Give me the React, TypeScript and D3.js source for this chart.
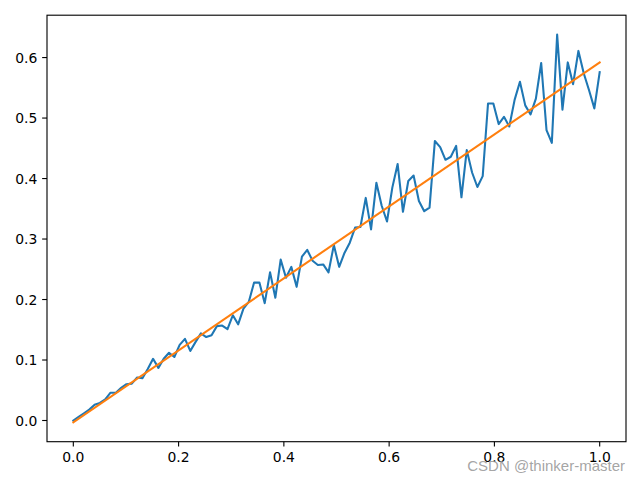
import React from 'react';
import * as d3 from 'd3';

// Noisy series (blue), 100 evenly spaced samples on [0, 1]
const noisyY: number[] = [
  0.000, 0.006, 0.012, 0.018, 0.026, 0.029, 0.035, 0.046, 0.046, 0.054,
  0.060, 0.061, 0.071, 0.070, 0.085, 0.102, 0.087, 0.102, 0.112, 0.105,
  0.125, 0.135, 0.115, 0.130, 0.144, 0.138, 0.141, 0.156, 0.157, 0.151,
  0.174, 0.159, 0.185, 0.196, 0.228, 0.228, 0.194, 0.245, 0.203, 0.266,
  0.236, 0.254, 0.221, 0.271, 0.282, 0.264, 0.257, 0.258, 0.245, 0.290,
  0.254, 0.277, 0.294, 0.319, 0.320, 0.368, 0.316, 0.393, 0.355, 0.329,
  0.385, 0.424, 0.345, 0.396, 0.405, 0.363, 0.346, 0.352, 0.462, 0.452,
  0.431, 0.436, 0.454, 0.369, 0.447, 0.410, 0.386, 0.404, 0.524, 0.524,
  0.490, 0.502, 0.486, 0.530, 0.560, 0.521, 0.506, 0.532, 0.591, 0.480,
  0.459, 0.638, 0.514, 0.592, 0.556, 0.611, 0.574, 0.546, 0.516, 0.576,
];
const noisyX: number[] = noisyY.map((_, i) => i / (noisyY.length - 1));

// Fitted line (orange)
const fitX: number[] = [0, 1];
const fitY: number[] = [-0.003, 0.592];

const xTicks: number[] = [0, 0.2, 0.4, 0.6, 0.8, 1.0];
const yTicks: number[] = [0, 0.1, 0.2, 0.3, 0.4, 0.5, 0.6];

const watermark = 'CSDN @thinker-master';

const W = 640;
const H = 480;
const left = 47;
const right = 626;
const top = 15.2;
const bottom = 441.7;

function padded(ext: [number, number]): [number, number] {
  const r = ext[1] - ext[0];
  return [ext[0] - 0.05 * r, ext[1] + 0.05 * r];
}

export default function App() {
  const xExt = d3.extent([...noisyX, ...fitX]) as [number, number];
  const yExt = d3.extent([...noisyY, ...fitY]) as [number, number];
  const x = d3.scaleLinear().domain(padded(xExt)).range([left, right]);
  const y = d3.scaleLinear().domain(padded(yExt)).range([bottom, top]);

  const line = d3
    .line<[number, number]>()
    .x((d) => x(d[0]))
    .y((d) => y(d[1]));

  const blue = line(noisyX.map((v, i) => [v, noisyY[i]] as [number, number])) || '';
  const orange = line(fitX.map((v, i) => [v, fitY[i]] as [number, number])) || '';

  const fs = 13.9;
  const tickLen = 4.86;
  const pad = 4.86;

  return (
    <svg
      width={W}
      height={H}
      style={{ position: 'absolute', left: 0, top: 0, background: '#fff' }}
      fontFamily="'DejaVu Sans', sans-serif"
    >
      <rect x={0} y={0} width={W} height={H} fill="#fff" />
      <defs>
        <clipPath id="plotClip">
          <rect x={left} y={top} width={right - left} height={bottom - top} />
        </clipPath>
      </defs>
      <g clipPath="url(#plotClip)">
        <path d={blue} fill="none" stroke="#1f77b4" strokeWidth={2.08} strokeLinejoin="round" strokeLinecap="square" />
        <path d={orange} fill="none" stroke="#ff7f0e" strokeWidth={2.08} strokeLinejoin="round" strokeLinecap="square" />
      </g>
      <rect
        x={left}
        y={top}
        width={right - left}
        height={bottom - top}
        fill="none"
        stroke="#000"
        strokeWidth={1.11}
      />
      {xTicks.map((t) => (
        <g key={'x' + t}>
          <line x1={x(t)} x2={x(t)} y1={bottom} y2={bottom + tickLen} stroke="#000" strokeWidth={1.11} />
          <text
            x={x(t)}
            y={bottom + tickLen + pad}
            dy="0.76em"
            textAnchor="middle"
            fontSize={fs}
            fill="#000"
          >
            {t.toFixed(1)}
          </text>
        </g>
      ))}
      {yTicks.map((t) => (
        <g key={'y' + t}>
          <line x1={left - tickLen} x2={left} y1={y(t)} y2={y(t)} stroke="#000" strokeWidth={1.11} />
          <text
            x={left - tickLen - pad}
            y={y(t)}
            dy="0.36em"
            textAnchor="end"
            fontSize={fs}
            fill="#000"
          >
            {t.toFixed(1)}
          </text>
        </g>
      ))}
      <text
        x={625}
        y={471}
        textAnchor="end"
        fontSize={15}
        fontFamily="'Liberation Sans', Arial, sans-serif"
        fill="#9a9a9a"
        fillOpacity={0.9}
      >
        {watermark}
      </text>
    </svg>
  );
}
